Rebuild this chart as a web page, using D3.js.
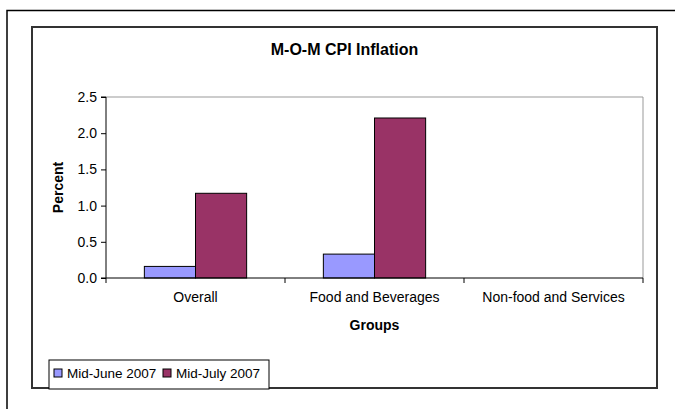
<!DOCTYPE html>
<html>
<head>
<meta charset="utf-8">
<script src="https://cdn.jsdelivr.net/npm/d3@7"></script>
<style>
  body { margin: 0; background: #fff; }
  svg { font-family: Arial, "Liberation Sans", sans-serif; }
  .axis path, .axis line { stroke: #000; }
</style>
</head>
<body>
<script>
// data
var categories = ["Overall", "Food and Beverages", "Non-food and Services"];
var seriesNames = ["Mid-June 2007", "Mid-July 2007"];
var juneValues = [0.16, 0.33, null];
var julyValues = [1.17, 2.21, null];
var yTicks = [0, 0.5, 1.0, 1.5, 2.0, 2.5];
var colors = ["#9999FF", "#993366"];

var W = 675, H = 409;
var plot = {left: 106, right: 643, top: 97, bottom: 278};

var svg = d3.select("body").append("svg")
    .attr("width", W)
    .attr("height", H);

// outer frame (runs off the page right / bottom)
svg.append("rect")
    .attr("x", 7).attr("y", 10.5)
    .attr("width", 700).attr("height", 420)
    .attr("fill", "none")
    .attr("stroke", "#000")
    .attr("stroke-width", 1.5);

// chart area frame
svg.append("rect")
    .attr("x", 32).attr("y", 27)
    .attr("width", 625).attr("height", 361)
    .attr("fill", "#fff")
    .attr("stroke", "#333")
    .attr("stroke-width", 2);

// title
svg.append("text")
    .attr("x", 344.5).attr("y", 54.5)
    .attr("text-anchor", "middle")
    .style("font-weight", "bold")
    .style("font-size", "16px")
    .text("M-O-M CPI Inflation");

// scales
var x = d3.scaleBand().domain(categories).range([plot.left, plot.right]).padding(0);
var xSub = d3.scaleBand().domain(seriesNames).range([0, x.bandwidth()])
    .paddingInner(0).paddingOuter(0.75);
var y = d3.scaleLinear().domain([0, 2.5]).range([plot.bottom, plot.top]);

// plot area border (top / right)
svg.append("path")
    .attr("d", "M" + plot.left + "," + plot.top + "H" + plot.right + "V" + plot.bottom)
    .attr("fill", "none")
    .attr("stroke", "#999")
    .attr("stroke-width", 1);

// bars
var rows = categories.map(function(c, i) {
  return {cat: c, vals: [juneValues[i], julyValues[i]]};
});
var groups = svg.selectAll(".grp")
    .data(rows)
  .enter().append("g")
    .attr("class", "grp")
    .attr("transform", function(d) { return "translate(" + x(d.cat) + ",0)"; });

groups.selectAll("rect")
    .data(function(d) {
      return d.vals.map(function(v, j) { return {s: seriesNames[j], v: v, j: j}; })
        .filter(function(e) { return e.v != null; });
    })
  .enter().append("rect")
    .attr("x", function(d) { return xSub(d.s); })
    .attr("width", xSub.bandwidth())
    .attr("y", function(d) { return y(d.v); })
    .attr("height", function(d) { return y(0) - y(d.v); })
    .attr("fill", function(d) { return colors[d.j]; })
    .attr("stroke", "#000")
    .attr("stroke-width", 1);

// y axis
var yAxis = d3.axisLeft(y).tickValues(yTicks).tickFormat(d3.format(".1f")).tickSize(5).tickPadding(4);
svg.append("g")
    .attr("class", "axis")
    .attr("transform", "translate(" + plot.left + ",0)")
    .call(yAxis)
    .call(function(g) {
      g.select(".domain").attr("d", "M-5," + plot.top + "H0V" + plot.bottom + "H-5");
      g.selectAll("text").style("font-size", "14px").attr("fill", "#000");
    });

// x axis: labels centered, ticks at category boundaries
var xAxis = d3.axisBottom(x).tickSize(0).tickPadding(14);
svg.append("g")
    .attr("class", "axis")
    .attr("transform", "translate(0," + plot.bottom + ")")
    .call(xAxis)
    .call(function(g) {
      g.select(".domain").attr("d", "M" + plot.left + ",0H" + plot.right);
      g.selectAll("text").style("font-size", "14px").attr("fill", "#000");
    });

var bounds = categories.map(function(c) { return x(c); }).concat([plot.right]);
svg.selectAll(".xtick")
    .data(bounds)
  .enter().append("line")
    .attr("class", "xtick")
    .attr("x1", function(d) { return d; })
    .attr("x2", function(d) { return d; })
    .attr("y1", plot.bottom)
    .attr("y2", plot.bottom + 5)
    .attr("stroke", "#000");

// axis titles
svg.append("text")
    .attr("x", (plot.left + plot.right) / 2).attr("y", 330)
    .attr("text-anchor", "middle")
    .style("font-weight", "bold")
    .style("font-size", "14px")
    .text("Groups");

svg.append("text")
    .attr("transform", "translate(63," + ((plot.top + plot.bottom) / 2) + ") rotate(-90)")
    .attr("text-anchor", "middle")
    .style("font-weight", "bold")
    .style("font-size", "14px")
    .text("Percent");

// legend
var legend = svg.append("g").attr("transform", "translate(49,360)");
legend.append("rect")
    .attr("width", 220).attr("height", 29)
    .attr("fill", "#fff")
    .attr("stroke", "#000")
    .attr("stroke-width", 1);

var legX = [5, 114];
var item = legend.selectAll(".legitem")
    .data(seriesNames)
  .enter().append("g")
    .attr("class", "legitem")
    .attr("transform", function(d, i) { return "translate(" + legX[i] + ",0)"; });

item.append("rect")
    .attr("x", 0).attr("y", 9)
    .attr("width", 8).attr("height", 8)
    .attr("fill", function(d, i) { return colors[i]; })
    .attr("stroke", "#000");

item.append("text")
    .attr("x", 13).attr("y", 13)
    .attr("dy", ".35em")
    .style("font-size", "13.5px")
    .text(function(d) { return d; });
</script>
</body>
</html>
